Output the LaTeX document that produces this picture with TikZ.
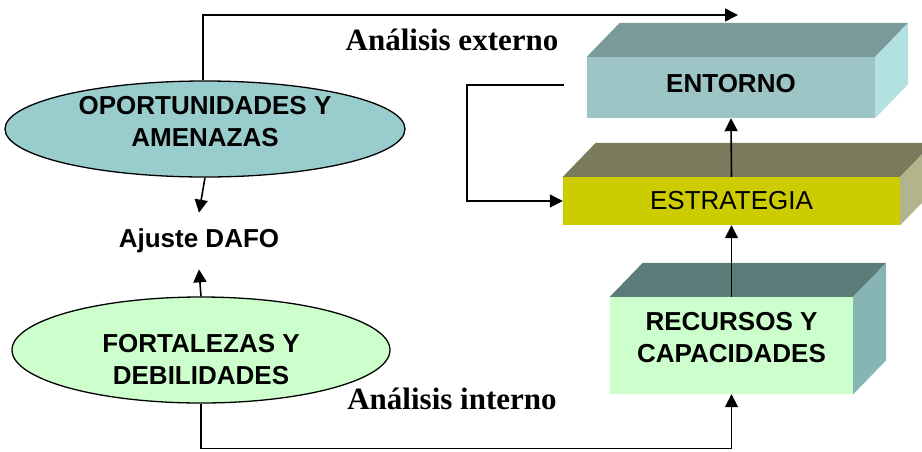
\documentclass[tikz,border=0pt]{standalone}
\usepackage{fontspec}
\setmainfont{Liberation Sans}
\newfontfamily\analfont{Liberation Serif}
\usetikzlibrary{shapes.geometric,arrows.meta}
\definecolor{opocol}{HTML}{99CCCC}
\definecolor{forcol}{HTML}{CCFFCC}
\definecolor{entfront}{HTML}{9DC5C5}
\definecolor{enttop}{HTML}{7A9A9A}
\definecolor{entside}{HTML}{B3E1E1}
\definecolor{estfront}{HTML}{CCCC00}
\definecolor{esttop}{HTML}{7A7A5C}
\definecolor{estside}{HTML}{B3B38C}
\definecolor{recfront}{HTML}{CCFFCC}
\definecolor{rectop}{HTML}{5C7C7A}
\definecolor{recside}{HTML}{87B5B5}
\begin{document}
\begin{tikzpicture}[x=1pt,y=-1pt]
    \tikzset{
        bigbold/.style={font=\fontsize{26}{32}\selectfont\bfseries,align=center},
        oval/.style={ellipse,draw,line width=1.3pt,inner sep=0pt},
        front/.style={rectangle,inner sep=0pt,align=center,font=\fontsize{26}{32}\selectfont},
        arr/.style={-{Triangle[length=13pt,width=13pt]},line width=1.6pt},
        analisis/.style={font=\analfont\fontsize{31}{36}\selectfont\bfseries},}
    % top and right faces of a box
    \def\boxfaces#1#2#3{
        \fill[#2] (#1.north west) -- ++(33,-34) -- ([shift={(33pt,34pt)}]#1.north east) -- (#1.north east) -- cycle;
        \fill[#3] (#1.north east) -- ++(33,-34) -- ([shift={(33pt,34pt)}]#1.south east) -- (#1.south east) -- cycle;}
    \useasboundingbox (0,0) rectangle (922,451);
    \node[oval,fill=opocol,minimum width=400pt,minimum height=96pt,
        label={[bigbold,yshift=7pt]center:OPORTUNIDADES Y\\AMENAZAS}] (opo) at (205,129) {};
    \node[oval,fill=forcol,minimum width=378pt,minimum height=106pt,
        label={[bigbold,yshift=-10pt]center:FORTALEZAS Y\\DEBILIDADES}] (for) at (201,350) {};
    \node[bigbold,inner xsep=0pt,inner ysep=16pt] (dafo) at (199,241) {Ajuste DAFO};
    \node[front,fill=entfront,minimum width=288pt,minimum height=61pt,text height=19pt,text depth=10pt,
        font=\fontsize{26}{32}\selectfont\bfseries] (ent) at (731,87.5) {ENTORNO};
    \node[front,fill=estfront,minimum width=337pt,minimum height=48pt] (est) at (731.5,201) {ESTRATEGIA};
    \node[front,fill=recfront,minimum width=243pt,minimum height=97pt,
        label={[bigbold,yshift=8pt]center:RECURSOS Y\\CAPACIDADES}] (rec) at (731.5,345.5) {};
    \boxfaces{ent}{enttop}{entside}
    \boxfaces{est}{esttop}{estside}
    \boxfaces{rec}{rectop}{recside}
    \node[analisis] (ext) at (452,40) {Análisis externo};
    \node[analisis] (int) at (452,399) {Análisis interno};
    \coordinate (extend) at (738,15);
    \coordinate (fb) at (564,85);
    \draw[arr] ([xshift=-2pt]opo.north) |- (extend);
    \draw[arr] (opo.south) -- (dafo.north);
    \draw[arr] (for.north) -- (dafo.south);
    \draw[arr] (for.south) -- ++(0,45) -| (rec.south);
    \draw[arr] (rec.north) -- (est.south);
    \draw[arr] (est.north) -- (ent.south);
    \draw[arr] (fb) -- ++(-97,0) |- (est.west);
\end{tikzpicture}
\end{document}
